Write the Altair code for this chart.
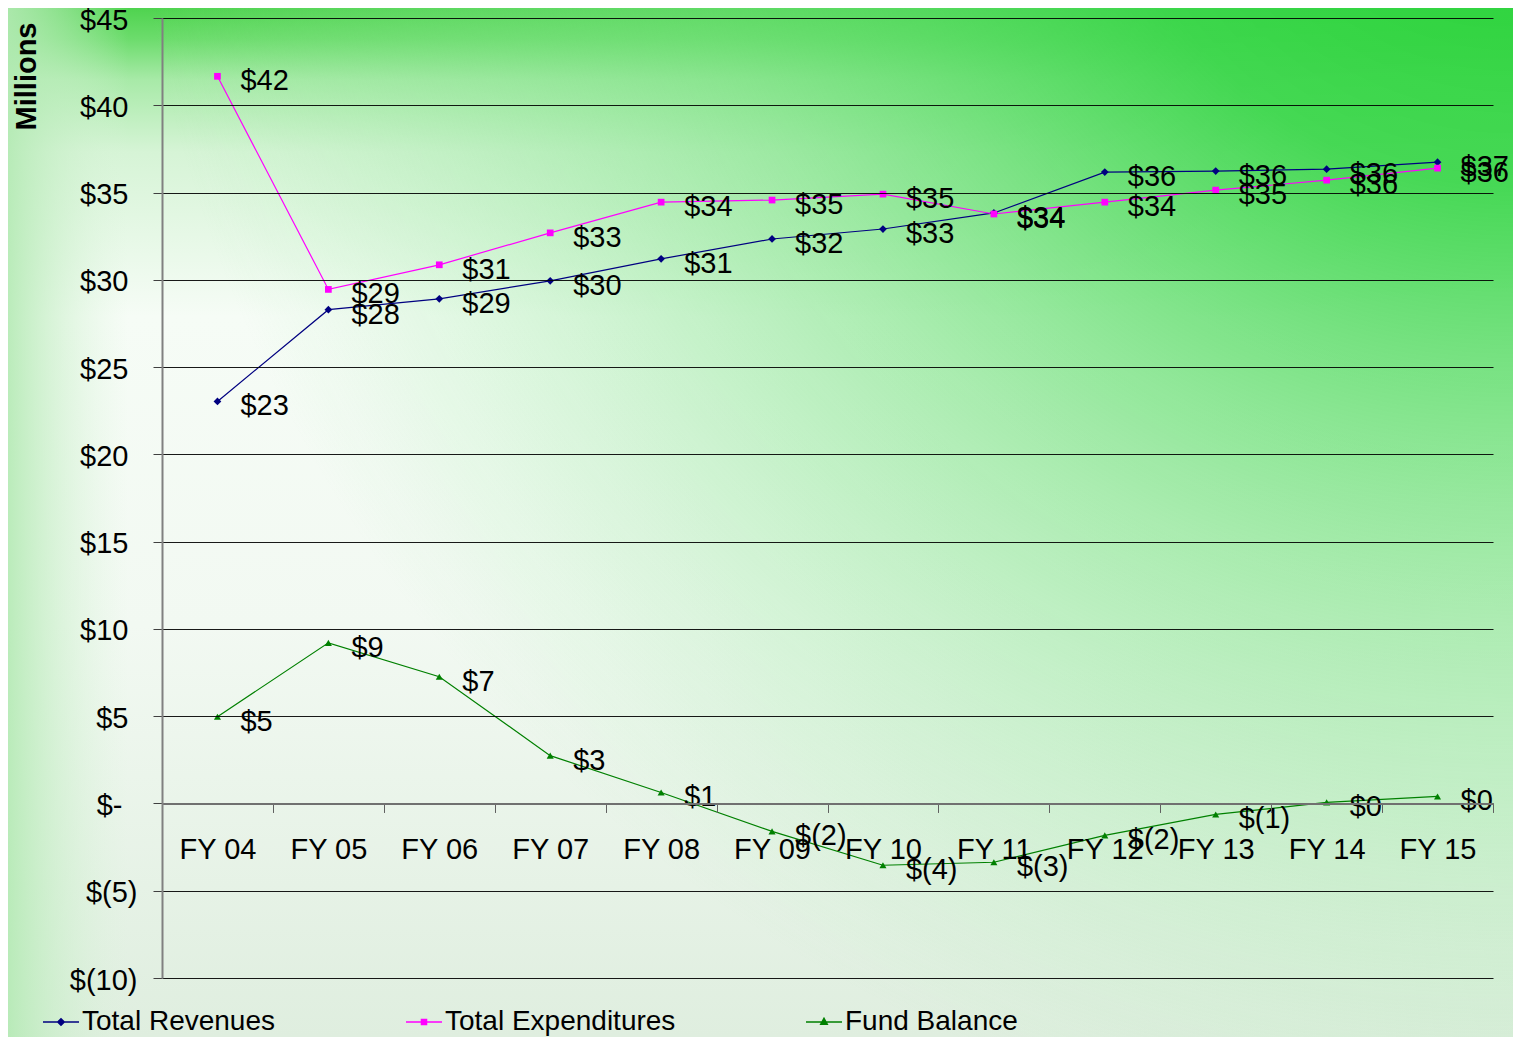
import altair as alt
import pandas as pd

years = ["FY 04", "FY 05", "FY 06", "FY 07", "FY 08", "FY 09",
         "FY 10", "FY 11", "FY 12", "FY 13", "FY 14", "FY 15"]
revenues = [23.03, 28.29, 28.91, 29.94, 31.2, 32.34, 32.91, 33.83, 36.17, 36.23, 36.34, 36.74]
expenditures = [41.66, 29.45, 30.86, 32.69, 34.45, 34.57, 34.91, 33.77, 34.45, 35.14, 35.71, 36.4]
fund_balance = [4.97, 9.2, 7.26, 2.74, 0.63, -1.6, -3.54, -3.37, -1.83, -0.63, 0.06, 0.4]

series_names = ["Total Revenues", "Total Expenditures", "Fund Balance"]
series_colors = ["#000080", "#FF00FF", "#008000"]
series_shapes = ["diamond", "square", "triangle-up"]
point_sizes = [60, 45, 50]
legend_paths = [
    "M-1,0H1M0,-0.18L0.18,0L0,0.18L-0.18,0Z",
    "M-1,0H1M-0.14,-0.14H0.14V0.14H-0.14Z",
    "M-1,0H1M0,-0.2L0.18,0.13H-0.18Z",
]
y_ticks = [-10, -5, 0, 5, 10, 15, 20, 25, 30, 35, 40, 45]


def money(v):
    r = int(round(v))
    return f"$({abs(r)})" if r < 0 else f"${r}"


rows = []
for name, vals in zip(series_names, [revenues, expenditures, fund_balance]):
    for yr, v in zip(years, vals):
        rows.append({"year": yr, "series": name, "value": v, "label": money(v)})
df = pd.DataFrame(rows)

W, H = 1331, 960
PAD = {"left": 154, "top": 10, "right": 20, "bottom": 59}
FONT = "Liberation Sans"
FS = 29
Y_MIN, Y_MAX = -10, 45
ZERO_OFFSET = H * Y_MAX / (Y_MAX - Y_MIN) - H

bg = pd.DataFrame({"k": [0]})


def bg_rect(grad):
    return alt.Chart(bg).mark_rect(color=grad, strokeWidth=0).encode(
        x=alt.value(-PAD["left"]), x2=alt.value(W + PAD["right"]),
        y=alt.value(-PAD["top"]), y2=alt.value(H + PAD["bottom"]))


base_grad = {
    "gradient": "linear", "x1": 0, "y1": 0, "x2": 0, "y2": 1,
    "stops": [
        {"offset": 0.0, "color": "#4fd34f"},
        {"offset": 0.03, "color": "#6cdc6c"},
        {"offset": 0.07, "color": "#a8eaa8"},
        {"offset": 0.14, "color": "#d6f4d6"},
        {"offset": 0.30, "color": "#f6fcf6"},
        {"offset": 0.60, "color": "#f2f9f2"},
        {"offset": 1.0, "color": "#dfeedf"},
    ],
}
right_grad = {
    "gradient": "radial", "x1": 1.0, "y1": 0.0, "r1": 0, "x2": 1.0, "y2": 0.0, "r2": 0.92,
    "stops": [
        {"offset": 0.0, "color": "rgba(34,210,50,1)"},
        {"offset": 0.3, "color": "rgba(58,214,74,0.92)"},
        {"offset": 0.6, "color": "rgba(110,224,120,0.55)"},
        {"offset": 1.0, "color": "rgba(150,232,160,0)"},
    ],
}
left_grad = {
    "gradient": "linear", "x1": 0, "y1": 0, "x2": 1, "y2": 0,
    "stops": [
        {"offset": 0.0, "color": "rgba(180,234,180,0.9)"},
        {"offset": 0.08, "color": "rgba(220,244,220,0)"},
        {"offset": 1.0, "color": "rgba(220,244,220,0)"},
    ],
}

x_enc = alt.X(
    "year:N", sort=years, title=None,
    scale=alt.Scale(type="band", domain=years, paddingInner=0, paddingOuter=0),
    axis=alt.Axis(orient="bottom", offset=ZERO_OFFSET, tickBand="extent", tickSize=9,
                  tickColor="#606060", domainColor="#707070", domainWidth=2,
                  labelFontSize=FS, labelFont=FONT, labelColor="black", labelPadding=23,
                  labelAngle=0, labelOverlap=False, grid=False, zindex=1),
)
y_enc = alt.Y(
    "value:Q", title="Millions",
    scale=alt.Scale(domain=[Y_MIN, Y_MAX], nice=False, zero=False),
    axis=alt.Axis(values=y_ticks, grid=True, gridColor="#000000", gridWidth=1, gridOpacity=0.9,
                  tickSize=9, tickColor="#404040", domainColor="#808080", domainWidth=2,
                  labelFontSize=FS, labelFont=FONT, labelColor="black",
                  labelPadding={"condition": [{"test": "datum.value < 0", "value": 16},
                                              {"test": "datum.value == 0", "value": 31}],
                                "value": 25},
                  labelOffset=2,
                  labelExpr="datum.value == 0 ? '$-' : (datum.value < 0 ? '$(' + abs(datum.value) + ')' : '$' + datum.value)",
                  titleFontSize=FS, titleFont=FONT, titleFontWeight="bold", titleColor="black",
                  titleAngle=-90, titleX=-136, titleY=4, titleAlign="right", titleBaseline="middle",
                  zindex=1),
)

color_scale = alt.Scale(domain=series_names, range=series_colors)

lines = alt.Chart(df).mark_line(strokeWidth=1.2).encode(
    x=x_enc, y=y_enc,
    color=alt.Color("series:N", scale=color_scale, title=None),
)

point_layers = []
for name, shp, sz in zip(series_names, series_shapes, point_sizes):
    point_layers.append(
        alt.Chart(df).transform_filter(alt.datum.series == name)
        .mark_point(filled=True, size=sz, opacity=1, shape=shp)
        .encode(x=alt.X("year:N", sort=years), y="value:Q",
                color=alt.Color("series:N", scale=color_scale, title=None))
    )

legend_layer = alt.Chart(df).transform_filter("false").mark_point(
    filled=False, opacity=1, strokeWidth=1.5).encode(
    x=alt.X("year:N", sort=years), y="value:Q",
    color=alt.Color("series:N", scale=color_scale, title=None),
    shape=alt.Shape("series:N", scale=alt.Scale(domain=series_names, range=legend_paths), title=None),
)

labels = alt.Chart(df).mark_text(align="left", baseline="middle", dx=23, dy=5,
                                 fontSize=FS, font=FONT, color="black").encode(
    x=alt.X("year:N", sort=years),
    y="value:Q",
    text="label:N",
)

chart = alt.layer(
    bg_rect(base_grad), bg_rect(right_grad), bg_rect(left_grad),
    lines, *point_layers, legend_layer, labels,
).properties(
    width=W, height=H,
    autosize=alt.AutoSizeParams(type="none"),
    padding=PAD,
).configure_view(stroke=None).configure_legend(
    orient="none", legendX=-120, legendY=985,
    direction="horizontal", columnPadding=127, gridAlign="none",
    labelFontSize=28, labelFont=FONT, labelColor="black", labelOffset=2, labelLimit=400,
    symbolSize=1296, symbolStrokeWidth=1.5, symbolOpacity=1,
)

chart.save("out.html", embed_options={"renderer": "svg", "actions": False})
